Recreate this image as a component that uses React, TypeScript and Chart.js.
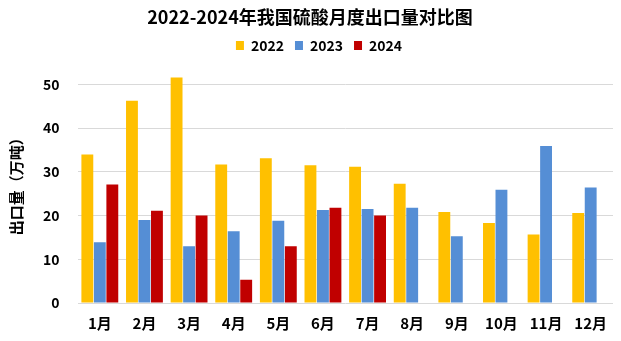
import React, { useEffect, useRef } from "react";
import { Chart, registerables } from "chart.js";

Chart.register(...registerables);

const months = ["1月", "2月", "3月", "4月", "5月", "6月", "7月", "8月", "9月", "10月", "11月", "12月"];
const series2022 = [34.0, 46.3, 51.6, 31.7, 33.1, 31.5, 31.2, 27.3, 20.8, 18.3, 15.7, 20.6];
const series2023 = [13.9, 19.0, 13.0, 16.4, 18.8, 21.3, 21.5, 21.8, 15.3, 25.9, 35.9, 26.4];
const series2024 = [27.1, 21.1, 20.0, 5.3, 13.0, 21.8, 20.0, null, null, null, null, null];
const titleText = "2022-2024年我国硫酸月度出口量对比图";
const yTitle = "出口量（万吨）";

const FONT = "'Noto Sans CJK SC', 'Noto Sans', sans-serif";

// shifts the legend horizontally (the reference legend sits slightly right of centre)
const legendShift = {
  id: "legendShift",
  afterLayout(chart: any) {
    const lg = chart.legend;
    if (lg) {
      lg.left += 9;
      lg.right += 9;
    }
  },
};

export default function App() {
  const ref = useRef<HTMLCanvasElement>(null);
  useEffect(() => {
    if (!ref.current) return;
    const chart = new Chart(ref.current, {
      type: "bar",
      data: {
        labels: months,
        datasets: [
          { label: "2022", data: series2022, backgroundColor: "#FFC000" },
          { label: "2023", data: series2023, backgroundColor: "#558ED5" },
          { label: "2024", data: series2024 as any, backgroundColor: "#C00000" },
        ],
      },
      plugins: [legendShift],
      options: {
        animation: false,
        responsive: false,
        maintainAspectRatio: false,
        datasets: { bar: { categoryPercentage: 0.84, barPercentage: 0.95 } },
        layout: { padding: { left: 7, right: 8, top: 5, bottom: 6 } },
        plugins: {
          title: {
            display: true,
            text: titleText,
            color: "#000",
            font: { family: FONT, size: 18, weight: "bold" },
            padding: { top: 1, bottom: 0 },
          },
          legend: {
            display: true,
            position: "top",
            labels: {
              color: "#000",
              font: { family: FONT, size: 14, weight: "bold" },
              boxWidth: 8,
              boxHeight: 9,
              padding: 11,
            },
          },
          tooltip: { enabled: false },
        },
        scales: {
          x: {
            grid: { display: false },
            border: { display: false },
            ticks: {
              color: "#000",
              font: { family: FONT, size: 15, weight: "bold" },
              padding: 3,
              maxRotation: 0,
            },
          },
          y: {
            min: 0,
            max: 55,
            border: { display: false },
            grid: { color: "#D9D9D9", lineWidth: 1, drawTicks: false },
            ticks: {
              stepSize: 10,
              includeBounds: false,
              color: "#000",
              font: { family: FONT, size: 14, weight: "bold" },
              padding: 18,
            },
            title: {
              display: true,
              text: yTitle,
              color: "#000",
              font: { family: FONT, size: 15, weight: "bold" },
              padding: { top: 0, bottom: 0 },
            },
          },
        },
      },
    });
    return () => chart.destroy();
  }, []);
  return (
    <div style={{ position: "absolute", left: 0, top: 0, width: 621, height: 341, background: "#fff" }}>
      <canvas ref={ref} width={621} height={341} style={{ width: 621, height: 341 }} />
    </div>
  );
}
